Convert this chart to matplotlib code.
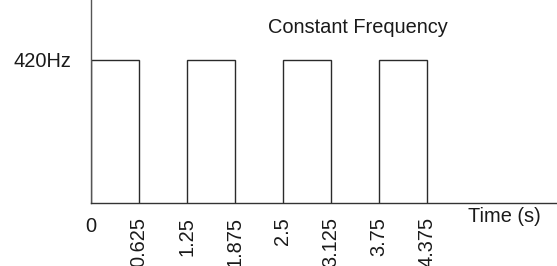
import matplotlib
matplotlib.use("Agg")
import matplotlib.pyplot as plt

plt.rcParams['font.family'] = ['Liberation Sans', 'DejaVu Sans']

# Data
pulse_starts = [0, 1.25, 2.5, 3.75]
pulse_ends = [0.625, 1.875, 3.125, 4.375]
level = 420
tick_values = [0, 0.625, 1.25, 1.875, 2.5, 3.125, 3.75, 4.375]
tick_labels = ["0", "0.625", "1.25", "1.875", "2.5", "3.125", "3.75", "4.375"]
y_tick_values = [420]
y_tick_labels = ["420Hz"]
title = "Constant Frequency"
x_label = "Time (s)"

FS = 14.4
W, H = 557, 266
fig = plt.figure(figsize=(W / 100, H / 100), dpi=100)
ax = fig.add_axes([91 / W, 63 / H, 466 / W, 203 / H])

for s, e in zip(pulse_starts, pulse_ends):
    ax.plot([s, s, e, e], [0, level, level, 0], color='#2a2a2a', lw=1.0,
            solid_joinstyle='miter')

ax.set_xlim(0, 466 / 76.8)
ax.set_ylim(0, 596)

for side in ['top', 'right']:
    ax.spines[side].set_visible(False)
ax.spines['left'].set_color('#555555')
ax.spines['bottom'].set_color('#333333')
ax.spines['left'].set_linewidth(1.0)
ax.spines['bottom'].set_linewidth(1.0)

ax.set_xticks(tick_values)
ax.set_xticklabels(tick_labels, fontsize=FS, rotation=90, va='top', ha='center')
labs = ax.get_xticklabels()
labs[0].set_rotation(0)
ax.tick_params(axis='x', length=0, pad=10, colors='#1a1a1a')

ax.set_yticks(y_tick_values)
ax.set_yticklabels(y_tick_labels, fontsize=FS)
ax.tick_params(axis='y', length=0, pad=14, colors='#1a1a1a')

fig.text(357.5 / W, (H - 33) / H, title, fontsize=FS, ha='center', va='baseline',
         color='#1a1a1a')
fig.text(468 / W, (H - 222) / H, x_label, fontsize=FS, ha='left', va='baseline',
         color='#1a1a1a')

fig.savefig("out.png", dpi=100)
